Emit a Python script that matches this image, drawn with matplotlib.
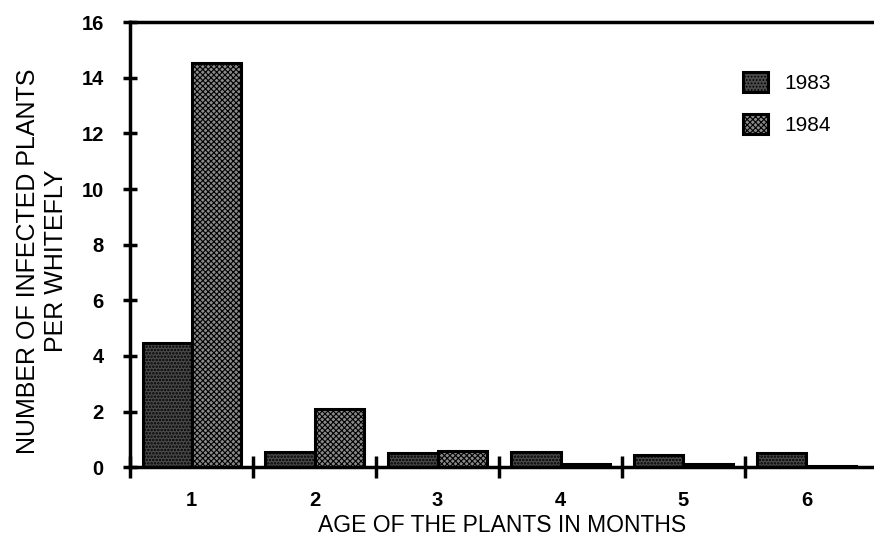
import matplotlib.pyplot as plt
import numpy as np

months = [1, 2, 3, 4, 5, 6]
infected_1983 = [4.45, 0.55, 0.5, 0.55, 0.45, 0.5]
infected_1984 = [14.55, 2.1, 0.58, 0.12, 0.1, 0.03]

plt.rcParams['font.family'] = ['Liberation Sans', 'DejaVu Sans']

fig = plt.figure(figsize=(8.74, 5.42), dpi=100)
ax = fig.add_axes((0.149, 0.138, 0.851, 0.821))

x = np.array(months)
w = 0.4
# stippled fills: dark with light dots, lighter checker
plt.rcParams['hatch.color'] = '#d8d8d8'
plt.rcParams['hatch.linewidth'] = 1.2
ax.bar(x - w / 2, infected_1983, width=w, color='#4a4a4a', edgecolor='black',
       linewidth=2.2, hatch='.....', label='1983')
plt.rcParams['hatch.color'] = '#ffffff'
plt.rcParams['hatch.linewidth'] = 0.8
ax.bar(x + w / 2, infected_1984, width=w, color='#8a8a8a', edgecolor='black',
       linewidth=2.2, hatch='xxxxxx', label='1984')

ax.set_xlim(0.5, 6.55)
ax.set_ylim(0, 16)

for s in ['left', 'bottom', 'top']:
    ax.spines[s].set_linewidth(2.5)
ax.spines['right'].set_visible(False)

ax.set_yticks(np.arange(0, 17, 2))
ax.tick_params(axis='y', direction='inout', length=10, width=2.5, labelsize=14.5, pad=14)
ax.set_xticks(np.arange(0.5, 6.5, 1))
ax.set_xticklabels([])
ax.tick_params(axis='x', which='major', direction='inout', length=16, width=2.5)
ax.set_xticks(x, minor=True)
ax.set_xticklabels([str(m) for m in months], minor=True)
ax.tick_params(axis='x', which='minor', length=0, labelsize=14.5, pad=17)

for lbl in ax.get_yticklabels() + ax.get_xticklabels(minor=True):
    lbl.set_fontweight('bold')

ax.set_xlabel('AGE OF THE PLANTS IN MONTHS', fontsize=16.5, labelpad=3)
ax.set_ylabel('NUMBER OF INFECTED PLANTS\nPER WHITEFLY', fontsize=18,
              labelpad=10, linespacing=1.2)
ax.yaxis.label.set_y(0.463)

ax.legend(loc='upper left', bbox_to_anchor=(743 / 874, 1 - 72 / 542),
          bbox_transform=fig.transFigure, frameon=False, borderpad=0,
          borderaxespad=0, fontsize=15, handlelength=1.2, handleheight=1.1,
          labelspacing=1.0, handletextpad=0.8)

fig.savefig('out.png', dpi=100)
